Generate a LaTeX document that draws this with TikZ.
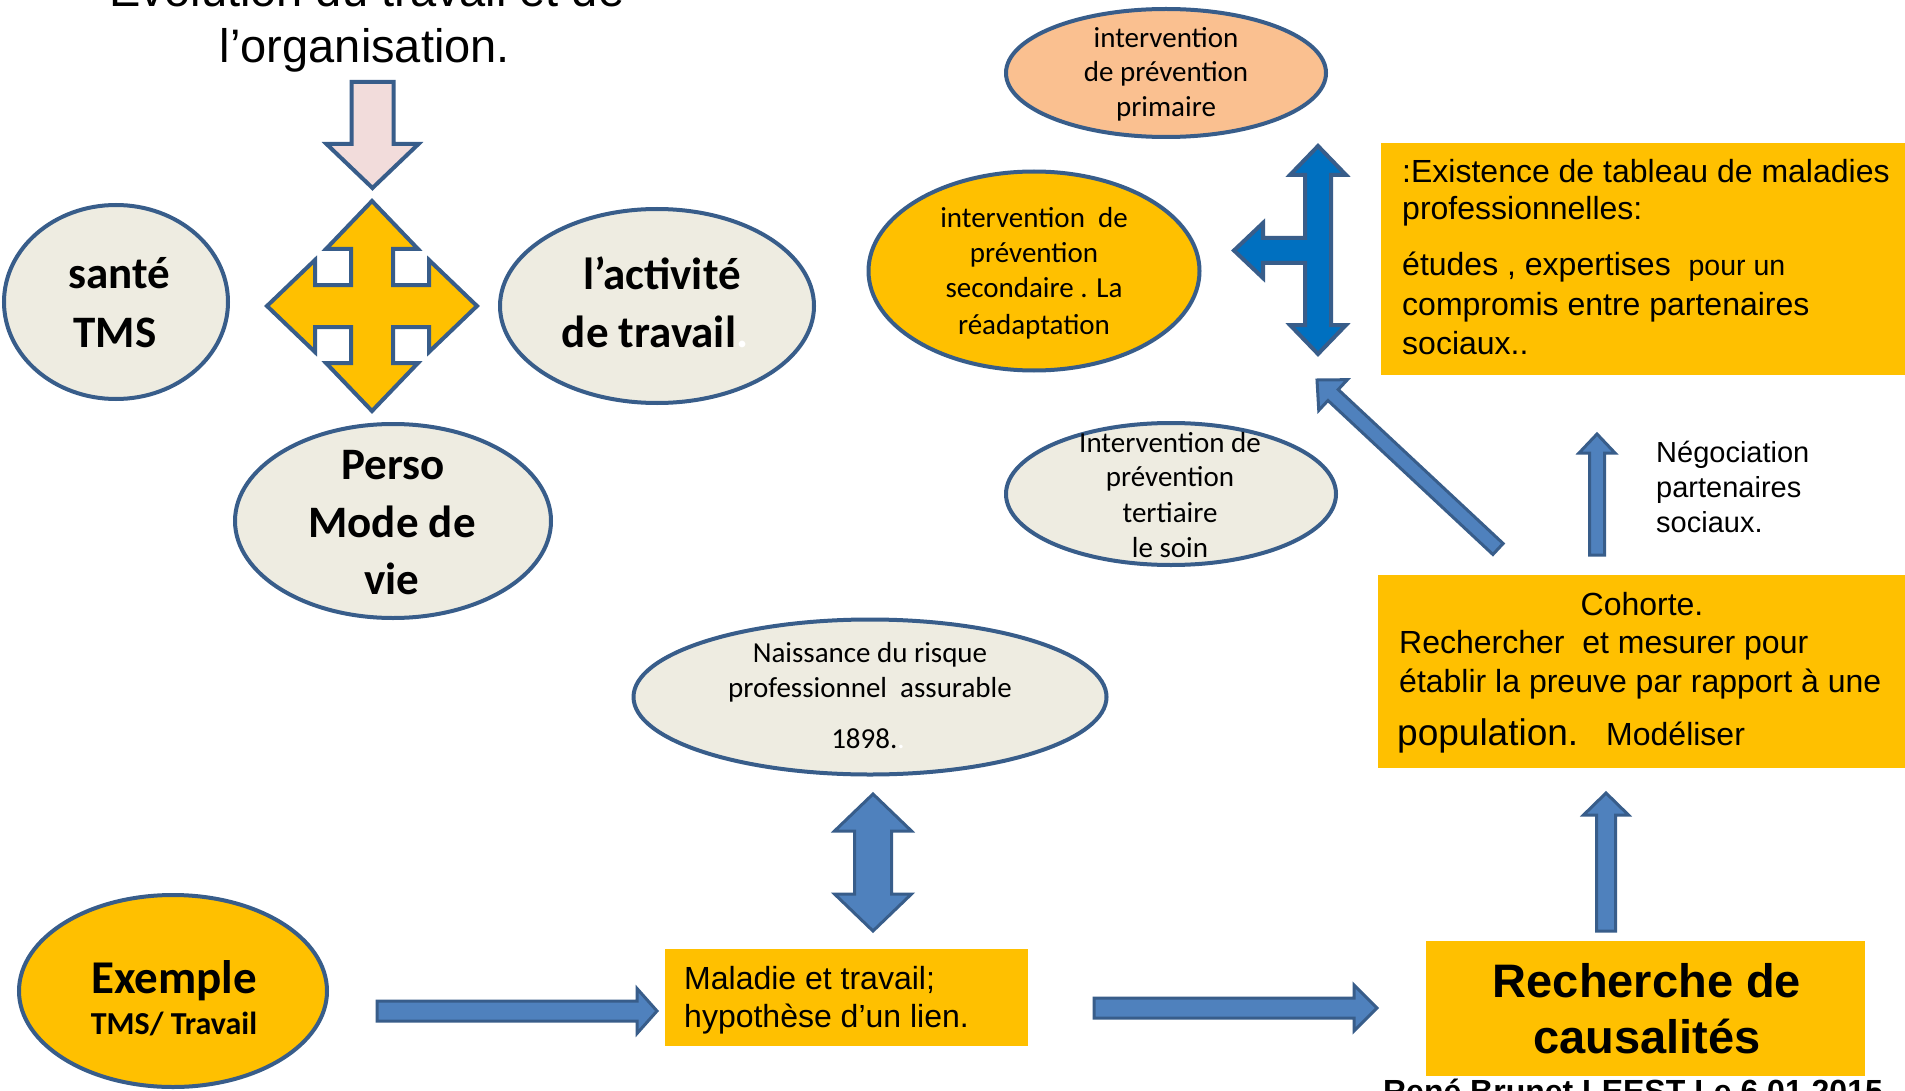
\documentclass[tikz,border=0pt]{standalone}
\usepackage{fontspec}
\usetikzlibrary{shapes.geometric,calc}
\newfontfamily\arial{Liberation Sans}
\newfontfamily\cali{Carlito}
\definecolor{gold}{HTML}{FFC000}
\definecolor{beige}{HTML}{EEECE1}
\definecolor{peach}{HTML}{FAC090}
\definecolor{pinkA}{HTML}{F2DCDB}
\definecolor{blueA}{HTML}{4F81BD}
\definecolor{blueT}{HTML}{0070C0}
\definecolor{bord}{HTML}{385D8A}
% [style]{start}{end}{shaft half width}{head half width}{head length}
\newcommand\blockarrow[6][]{%
  \coordinate (bah) at ($(#3)!#6!(#2)$);
  \path[#1] ($(#2)!#4!90:(#3)$) -- ($(bah)!#4!90:(#3)$) -- ($(bah)!#5!90:(#3)$) -- (#3)
    -- ($(bah)!#5!-90:(#3)$) -- ($(bah)!#4!-90:(#3)$) -- ($(#2)!#4!-90:(#3)$) -- cycle;}
\begin{document}
\begin{tikzpicture}[x=1pt,y=-1pt,
  ell/.style={ellipse,draw=bord,line width=4pt,inner sep=0pt},
  box/.style={fill=gold,draw=none,inner sep=0pt,anchor=north west},
  barr/.style={fill=blueA,draw=bord,line width=3pt},
  tc/.style={inner sep=0pt,anchor=base},
  tl/.style={inner sep=0pt,anchor=base west},
  fTitle/.style={font=\arial\fontsize{47}{56}\selectfont},
  fBig/.style={font=\cali\bfseries\fontsize{45}{54}\selectfont},
  fSmall/.style={font=\cali\fontsize{29}{35}\selectfont},
  fAr/.style={font=\arial\fontsize{32}{38}\selectfont},
  fArB/.style={font=\arial\bfseries\fontsize{47}{56}\selectfont},
]
\useasboundingbox (0,0) rectangle (1905,1091);
\clip (0,0) rectangle (1905,1091);
\fill[white] (0,0) rectangle (1905,1091);

% ---------- boxes
\node[box,minimum width=530pt,minimum height=232pt] (exist) at (1381,143) {};
\node[box,minimum width=530pt,minimum height=193pt] (coh) at (1378,575) {};
\node[box,minimum width=363pt,minimum height=97pt] (mal) at (665,949) {};
\node[box,minimum width=439pt,minimum height=135pt] (rech) at (1426,941) {};

% ---------- ellipses
\node[ell,fill=beige,minimum width=224pt,minimum height=194pt] (sante) at (116,302) {};
\node[ell,fill=beige,minimum width=314pt,minimum height=194pt] (activ) at (657,306) {};
\node[ell,fill=beige,minimum width=316pt,minimum height=194pt] (perso) at (393,521) {};
\node[ell,fill=peach,minimum width=320pt,minimum height=128pt] (prim) at (1166,73) {};
\node[ell,fill=gold,minimum width=331pt,minimum height=199pt] (secd) at (1034,271) {};
\node[ell,fill=beige,minimum width=330pt,minimum height=142pt] (tert) at (1171,494) {};
\node[ell,fill=beige,minimum width=473pt,minimum height=155pt] (naiss) at (870,697) {};
\node[ell,fill=gold,minimum width=308pt,minimum height=192pt] (exemp) at (173,991) {};

% ---------- pink arrow
\coordinate (pkS) at (372.5,82);
\coordinate (pkE) at (372.5,188);
\blockarrow[fill=pinkA,draw=bord,line width=4pt]{pkS}{pkE}{21pt}{46pt}{44pt}

% ---------- yellow four-way arrow
\draw[fill=gold,draw=bord,line width=4pt]
 (372,201) -- (418,249) -- (393,249) -- (393,285) -- (429,285) -- (429,260) -- (477,306)
 -- (429,352) -- (429,327) -- (393,327) -- (393,363) -- (418,363) -- (372,411)
 -- (326,363) -- (351,363) -- (351,327) -- (315,327) -- (315,352) -- (267,306)
 -- (315,260) -- (315,285) -- (351,285) -- (351,249) -- (326,249) -- cycle;

% ---------- blue T arrow
\draw[fill=blueT,draw=bord,line width=4pt]
 (1318,146) -- (1346,175) -- (1331,175) -- (1331,325) -- (1346,325) -- (1318,354)
 -- (1290,325) -- (1305,325) -- (1305,263) -- (1263,263) -- (1263,278) -- (1234,250.5)
 -- (1263,223) -- (1263,238) -- (1305,238) -- (1305,175) -- (1290,175) -- cycle;

% ---------- blue double arrow
\draw[barr]
 (873,794) -- (911.5,831) -- (891.5,831) -- (891.5,894) -- (911.5,894) -- (873,931)
 -- (834.5,894) -- (854.5,894) -- (854.5,831) -- (834.5,831) -- cycle;

% ---------- blue block arrows
\coordinate (a1s) at (377,1011);  \coordinate (a1e) at (657,1011);
\blockarrow[barr]{a1s}{a1e}{10pt}{22.5pt}{20pt}
\coordinate (a2s) at (1094,1008); \coordinate (a2e) at (1377,1008);
\blockarrow[barr]{a2s}{a2e}{10pt}{23pt}{23pt}
\coordinate (a3s) at (1606,931);  \coordinate (a3e) at (1606,793);
\blockarrow[barr]{a3s}{a3e}{9.5pt}{22.5pt}{22pt}
\coordinate (a4s) at (1597,555);  \coordinate (a4e) at (1597,434);
\blockarrow[barr]{a4s}{a4e}{7.5pt}{18pt}{19pt}
\coordinate (a5s) at (1498,549);  \coordinate (a5e) at (1317,380);
\blockarrow[barr]{a5s}{a5e}{7.5pt}{21pt}{22pt}

% ---------- texts
\node[tc,fTitle] (ti1) at (367,7) {Évolution du travail et de};
\node[tc,fTitle] (ti2) at (365,63) {l’organisation.};

\node[tc,fBig] (sa1) at (119,288) {santé};
\node[tc,fBig] (sa2) at (115,347) {TMS};

\node[tc,fBig] (ac1) at (662,290) {l’activité};
\node[tc,fBig] (ac2) at (655,347) {de travail{\color{white}.}};

\node[tc,fBig] (pe1) at (393,479) {Perso};
\node[tc,fBig] (pe2) at (392,537) {Mode de};
\node[tc,fBig] (pe3) at (392,594) {vie};

\node[tc,fSmall] (pr1) at (1166,48) {intervention};
\node[tc,fSmall] (pr2) at (1166,82) {de prévention};
\node[tc,fSmall] (pr3) at (1166,117) {primaire};

\node[tc,fSmall] (se1) at (1034,228) {intervention\ \ de};
\node[tc,fSmall] (se2) at (1034,263) {prévention};
\node[tc,fSmall] (se3) at (1034,298) {secondaire . La};
\node[tc,fSmall] (se4) at (1034,334) {réadaptation};

\node[tc,fSmall] (te1) at (1170,452) {Intervention de};
\node[tc,fSmall] (te2) at (1170,486) {prévention};
\node[tc,fSmall] (te3) at (1170,522) {tertiaire};
\node[tc,fSmall] (te4) at (1170,557) {le soin};

\node[tc,fSmall] (na1) at (870,662) {Naissance du risque};
\node[tc,fSmall] (na2) at (870,697) {professionnel\ \ assurable};
\node[tc,fSmall] (na3) at (868,748) {1898.{\color{white}.}};

\node[tc,font=\cali\bfseries\fontsize{47}{56}\selectfont] (ex1) at (174,993) {Exemple};
\node[tc,font=\cali\bfseries\fontsize{32}{38}\selectfont] (ex2) at (174,1034) {TMS/ Travail};

\node[tl,fAr] (ma1) at (684,989) {Maladie et travail;};
\node[tl,fAr] (ma2) at (684,1027) {hypothèse d’un lien.};

\node[tc,fArB] (re1) at (1647,997) {Recherche de};
\node[tc,fArB] (re2) at (1647,1053) {causalités};

\node[tc,fAr] (co1) at (1642,615) {Cohorte.};
\node[tl,fAr] (co2) at (1399,653) {Rechercher\ \ et mesurer pour};
\node[tl,fAr] (co3) at (1399,692) {établir la preuve par rapport à une};
\node[tl,font=\arial\fontsize{37}{44}\selectfont] (co4) at (1397,745) {population.};
\node[tl,fAr] (co5) at (1606,745) {Modéliser};

\node[tl,fAr] (ez1) at (1402,183) {:Existence de tableau de maladies};
\node[tl,fAr] (ez2) at (1402,220) {professionnelles:};
\node[tl,fAr] (ez3) at (1402,276) {études , expertises\ \ {\fontsize{28.5}{34}\selectfont pour un}};
\node[tl,fAr] (ez4) at (1402,315) {compromis entre partenaires};
\node[tl,fAr] (ez5) at (1402,354) {sociaux..};

\node[tl,font=\arial\fontsize{29}{35}\selectfont] (ng1) at (1656,462) {Négociation};
\node[tl,font=\arial\fontsize{29}{35}\selectfont] (ng2) at (1656,497) {partenaires};
\node[tl,font=\arial\fontsize{29}{35}\selectfont] (ng3) at (1656,532) {sociaux.};

\node[tc,font=\arial\bfseries\fontsize{32}{38}\selectfont] (auth) at (1633,1102) {René Brunet LEEST Le 6.01.2015};
\end{tikzpicture}
\end{document}
